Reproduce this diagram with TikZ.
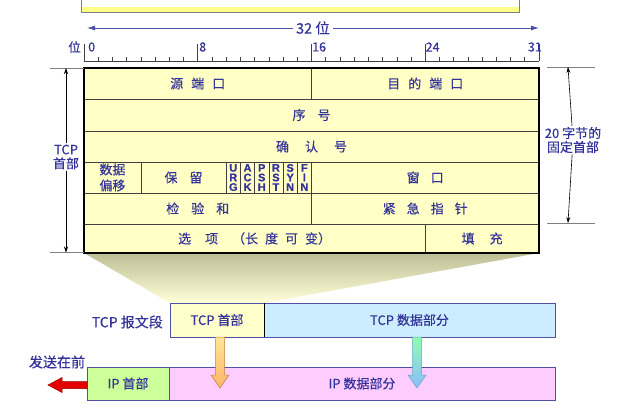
\documentclass[tikz,border=0pt]{standalone}
\usepackage{fontspec}
\setmainfont{Noto Sans CJK SC}[FakeBold=0.35]
\newfontfamily\flagfont{Liberation Sans}[FakeBold=0.6]
\usetikzlibrary{arrows.meta}
\definecolor{navy}{HTML}{333399}
\definecolor{tabfill}{HTML}{FFFFC6}
\definecolor{tabline}{HTML}{404040}
\definecolor{boxline}{HTML}{5050A8}
\definecolor{tcphfill}{HTML}{FFFFCC}
\definecolor{tcpdfill}{HTML}{CCECFF}
\definecolor{iphfill}{HTML}{CCFF99}
\definecolor{ipdfill}{HTML}{FFCCFF}
\definecolor{trapTop}{HTML}{BEBE96}
\definecolor{trapBot}{HTML}{FFFFD8}
\definecolor{topbar}{HTML}{FFFF88}
\newcommand\gp[1]{\hspace{#1pt}}
\newcommand\tcell[6]{\node[cellst, minimum width={((#4)-(#2))*1pt}, minimum height={((#5)-(#3))*1pt}] (#1) at ({((#2)+(#4))/2},{((#3)+(#5))/2}) {#6};}
\begin{document}
\begin{tikzpicture}[x=1pt,y=-1pt,
  cellst/.style={draw=tabline, line width=0.6pt, fill=tabfill, inner sep=0pt, outer sep=0pt, text=navy, font=\fontsize{13}{16}\selectfont, align=center},
  flagst/.style={cellst, font=\flagfont\bfseries\fontsize{11}{9.6}\selectfont},
  lab/.style={text=navy, font=\fontsize{13}{15}\selectfont, inner sep=1pt, align=center},
  rul/.style={text=navy, font=\fontsize{12.5}{14}\selectfont, inner sep=1pt},
  dimarr/.style={draw=black, line width=0.6pt, -{Stealth[length=6pt,width=4pt]}},
  gtick/.style={draw=gray, line width=0.6pt},
  bigarr/.style={draw=boxline, line width=0.8pt, -{Latex[length=8pt,width=5pt]}},
  boxst/.style={draw=boxline, line width=1pt, inner sep=0pt, outer sep=0pt, text=navy, font=\fontsize{13}{15}\selectfont}
]
\useasboundingbox (0,0) rectangle (640,413);

% top bar (bottom of an element cut by the page edge)
\fill[topbar] (81,6.5) rectangle (519,12);
\draw[gray, line width=0.7pt] (81,0) -- (81,12) -- (519,12) -- (519,0);

% 32 bit arrow
\node[lab, font=\fontsize{14.5}{16}\selectfont, inner sep=3pt] (w32) at (313,28) {32 位};
\coordinate (a32l) at (87,28);
\coordinate (a32r) at (539,28);
\draw[bigarr] (w32) -- (a32l);
\draw[bigarr] (w32) -- (a32r);

% ruler
\draw[tabline, line width=0.8pt] (84,61) -- (539,61);
\foreach \b in {0,...,32} \draw[tabline, line width=0.6pt] ({84+\b*14.21875},57) -- ({84+\b*14.21875},61);
\foreach \b in {0,8,16,24,32} \draw[tabline, line width=0.8pt] ({84+\b*14.21875},44) -- ({84+\b*14.21875},61);
\node[rul, anchor=east] (lw) at (82,47) {位};
\node[rul, anchor=west] (l0) at (87,47) {0};
\node[rul, anchor=west] (l8) at (198,47) {8};
\node[rul, anchor=west] (l16) at (311,47) {16};
\node[rul, anchor=west] (l24) at (424.5,47) {24};
\node[rul, anchor=east] (l31) at (543,47) {31};

% funnel
\shade[top color=trapTop, bottom color=trapBot] (84,253) -- (539,253) -- (264,303) -- (170,303) -- cycle;

% table
\tcell{srcport}{84}{68}{311.5}{99}{源\gp{8}端\gp{8}口}
\tcell{dstport}{311.5}{68}{539}{99}{目\gp{8}的\gp{8}端\gp{8}口}
\tcell{seq}{84}{99}{539}{131}{序\gp{12}号}
\tcell{ack}{84}{131}{539}{162}{确\gp{16}认\gp{16}号}
\tcell{doff}{84}{162}{84+4*14.21875}{193}{数据\\偏移}
\tcell{resv}{84+4*14.21875}{162}{84+10*14.21875}{193}{保\gp{12}留}
\foreach \f [count=\i from 10] in {U\\R\\G,A\\C\\K,P\\S\\H,R\\S\\T,S\\Y\\N,F\\I\\N}{
  \node[flagst, minimum width=14.21875pt, minimum height=31pt] (flag\i) at ({84+(\i+0.5)*14.21875},177.5) {\f};
}
\tcell{win}{84+16*14.21875}{162}{539}{193}{窗\gp{11}口}
\tcell{csum}{84}{193}{311.5}{224}{检\gp{12}验\gp{12}和}
\tcell{urgp}{311.5}{193}{539}{224}{紧\gp{11}急\gp{11}指\gp{11}针}
\tcell{opts}{84}{224}{425.25}{253}{选\gp{14}项\gp{14}（长\gp{7}度\gp{7}可\gp{7}变）}
\tcell{pad}{425.25}{224}{539}{253}{填\gp{15}充}
\draw[black, line width=1.3pt] (84,68) rectangle (539,253);

% left dimension
\draw[gtick] (50,68) -- (84,68);
\draw[gtick] (50,252.5) -- (84,252.5);
\node[lab] (tcphl) at (66,157) {TCP\\[-1pt]首部};
\coordinate (tcphtop) at (66,68);
\coordinate (tcphbot) at (66,252.5);
\draw[dimarr] (tcphl) -- (tcphtop);
\draw[dimarr] (tcphl) -- (tcphbot);

% right dimension
\draw[gtick] (547,67) -- (595,67);
\draw[gtick] (547,223) -- (595,223);
\node[lab] (fixl) at (573,140) {20 字节的\\[-1pt]固定首部};
\coordinate (fixtop) at (568,67);
\coordinate (fixbot) at (568,223);
\draw[dimarr] (fixl) -- (fixtop);
\draw[dimarr] (fixl) -- (fixbot);

% TCP segment
\node[boxst, fill=tcphfill, minimum width=94pt, minimum height=34pt] (tcph) at (217,320) {TCP 首部};
\node[boxst, fill=tcpdfill, minimum width=291pt, minimum height=34pt] (tcpd) at (409.5,320) {TCP 数据部分};
\draw[black, line width=0.8pt] (264,303) -- (264,337);
\node[lab, anchor=east, font=\fontsize{14}{16}\selectfont] (seglab) at (164,322) {TCP 报文段};

% IP datagram
\node[boxst, fill=iphfill, minimum width=82pt, minimum height=33pt] (iph) at (128,383.5) {IP 首部};
\node[boxst, fill=ipdfill, minimum width=386pt, minimum height=33pt] (ipd) at (362,383.5) {IP 数据部分};
\node[lab, font=\fontsize{14}{16}\selectfont] (sendlab) at (57,362) {发送在前};

% red arrow
\filldraw[fill=red!90!black, draw=red!60!black, line width=0.5pt] (87,381.5) -- (62,381.5) -- (62,377.5) -- (48,385) -- (62,392.5) -- (62,388.5) -- (87,388.5) -- cycle;

% down arrows
\shade[top color=yellow!50!orange!40, bottom color=orange!60] (215.5,337) -- (224.5,337) -- (224.5,375) -- (229,375) -- (220,388) -- (211,375) -- (215.5,375) -- cycle;
\draw[orange!50!gray, line width=0.5pt] (215.5,337) -- (224.5,337) -- (224.5,375) -- (229,375) -- (220,388) -- (211,375) -- (215.5,375) -- cycle;
\shade[top color=cyan!30!green!45, bottom color=cyan!40!blue!45] (412.5,337) -- (421.5,337) -- (421.5,375) -- (426,375) -- (417,388) -- (408,375) -- (412.5,375) -- cycle;
\draw[cyan!50!gray, line width=0.5pt] (412.5,337) -- (421.5,337) -- (421.5,375) -- (426,375) -- (417,388) -- (408,375) -- (412.5,375) -- cycle;
\end{tikzpicture}
\end{document}
